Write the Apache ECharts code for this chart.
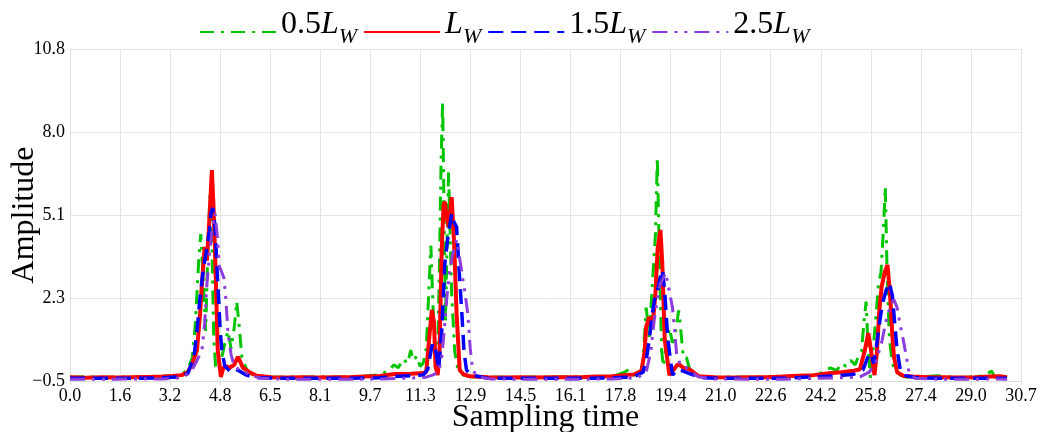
<!DOCTYPE html>
<html>
<head>
<meta charset="utf-8">
<script src="https://cdn.jsdelivr.net/npm/echarts@6/dist/echarts.min.js"></script>
<style>html,body{margin:0;padding:0;background:#fff;}#c{width:1047px;height:432px;}</style>
</head>
<body>
<div id="c"></div>
<script>
// ---- Data ----
const seriesNames = ['0.5L_W', 'L_W', '1.5L_W', '2.5L_W'];
const xTickLabels = ['0.0','1.6','3.2','4.8','6.5','8.1','9.7','11.3','12.9','14.5','16.1','17.8','19.4','21.0','22.6','24.2','25.8','27.4','29.0','30.7'];
const yTickLabels = ['\u22120.5','2.3','5.1','8.0','10.8'];

const greenT = [0,0.5,1.0,1.5,2.0,2.5,3.0,3.3,3.6,3.8,3.95,4.05,4.15,4.22,4.3,4.38,4.45,4.52,4.58,4.64,4.7,4.8,4.9,5.0,5.1,5.2,5.3,5.38,5.45,5.55,5.7,5.9,6.2,6.6,7.0,7.5,8.0,8.5,9.0,9.5,10.0,10.3,10.45,10.6,10.75,10.9,11.0,11.08,11.2,11.3,11.4,11.5,11.58,11.65,11.72,11.8,11.86,11.92,11.98,12.03,12.12,12.22,12.32,12.42,12.52,12.7,12.9,13.2,13.6,14.0,14.5,15.0,15.5,16.0,16.5,17.0,17.5,17.9,18.05,18.2,18.4,18.5,18.6,18.7,18.8,18.9,18.96,19.02,19.1,19.16,19.25,19.35,19.45,19.55,19.65,19.72,19.8,19.9,20.0,20.2,20.6,21.0,21.5,22.0,22.5,23.0,23.5,24.0,24.3,24.55,24.75,24.9,25.05,25.2,25.35,25.45,25.55,25.63,25.7,25.77,25.84,25.92,26.0,26.1,26.18,26.25,26.32,26.38,26.45,26.52,26.6,26.8,27.0,27.5,28.0,28.5,29.0,29.5,29.75,29.85,30.0,30.25];
const greenV = [-0.37,-0.35,-0.38,-0.36,-0.37,-0.35,-0.34,-0.32,-0.28,-0.1,0.3,1.5,3.5,4.5,3.0,1.2,4.0,5.9,4.2,1.0,0.0,-0.1,0.3,0.8,1.2,0.6,1.3,2.2,1.5,0.3,-0.1,-0.3,-0.35,-0.37,-0.36,-0.37,-0.35,-0.37,-0.36,-0.34,-0.28,-0.15,0.05,-0.05,0.25,0.1,0.55,0.2,0.35,0.0,0.1,0.6,2.5,4.1,2.0,0.3,0.0,3.0,7.0,9.0,1.5,6.6,2.5,0.5,-0.1,-0.3,-0.35,-0.37,-0.36,-0.37,-0.38,-0.36,-0.37,-0.36,-0.35,-0.36,-0.35,-0.2,-0.1,-0.3,-0.3,0.2,2.0,1.0,2.8,4.5,7.1,4.0,0.5,0.0,0.8,1.3,0.8,1.2,1.9,1.2,0.3,0.3,-0.1,-0.3,-0.36,-0.37,-0.36,-0.37,-0.35,-0.36,-0.34,-0.32,-0.2,-0.05,-0.15,0.1,0.0,0.2,0.05,0.35,0.5,1.5,2.2,0.5,-0.4,0.5,1.5,2.8,3.2,4.5,6.1,3.0,1.0,0.3,-0.1,-0.3,-0.37,-0.36,-0.32,-0.37,-0.37,-0.32,-0.16,-0.37,-0.36,-0.37];

const redT = [0,0.5,1.0,1.5,2.0,2.5,3.0,3.3,3.6,3.8,3.95,4.1,4.2,4.26,4.35,4.42,4.5,4.58,4.63,4.68,4.77,4.87,4.95,5.05,5.15,5.3,5.42,5.5,5.58,5.8,6.03,6.5,7.0,7.5,8.0,8.5,9.0,9.5,10.0,10.5,11.0,11.3,11.5,11.6,11.68,11.75,11.8,11.87,11.93,12.0,12.06,12.1,12.17,12.23,12.32,12.4,12.48,12.58,12.7,12.9,13.5,14.0,14.5,15.0,15.5,16.0,16.5,17.0,17.5,17.9,18.2,18.45,18.55,18.6,18.7,18.8,18.9,18.97,19.06,19.12,19.2,19.35,19.5,19.6,19.68,19.8,20.0,20.3,20.8,21.5,22.0,22.5,23.0,23.5,24.0,24.5,24.9,25.3,25.5,25.65,25.77,25.85,25.97,26.05,26.12,26.2,26.3,26.39,26.47,26.55,26.6,26.7,26.9,27.2,27.7,28.2,28.7,29.2,29.7,30.0,30.25];
const redV = [-0.37,-0.39,-0.37,-0.38,-0.37,-0.36,-0.35,-0.33,-0.3,-0.2,0.1,0.55,1.8,2.84,4.06,3.6,5.0,6.68,5.5,3.96,0.55,-0.36,-0.05,0.0,-0.05,0.05,0.32,0.15,-0.05,-0.2,-0.32,-0.37,-0.38,-0.37,-0.38,-0.37,-0.37,-0.35,-0.33,-0.26,-0.25,-0.24,-0.2,1.0,1.92,1.5,0.0,-0.3,0.5,4.0,5.5,5.6,5.0,4.74,5.76,4.2,1.8,-0.13,-0.27,-0.34,-0.37,-0.38,-0.37,-0.38,-0.37,-0.37,-0.37,-0.35,-0.34,-0.3,-0.28,-0.15,0.5,1.34,1.68,1.3,2.5,4.0,4.64,3.5,0.9,-0.3,-0.1,0.05,0.05,-0.05,-0.1,-0.34,-0.37,-0.38,-0.37,-0.37,-0.35,-0.32,-0.3,-0.24,-0.2,-0.15,-0.1,0.5,1.13,0.6,-0.3,0.5,1.8,2.7,3.2,3.45,2.5,1.0,0.32,-0.2,-0.32,-0.35,-0.37,-0.37,-0.38,-0.37,-0.35,-0.34,-0.37];

const blueT = [0,1.0,2.0,3.0,3.5,3.8,4.0,4.1,4.19,4.27,4.35,4.42,4.5,4.55,4.61,4.68,4.77,4.85,4.9,5.0,5.1,5.2,5.35,5.45,5.7,6.0,7.0,8.0,9.0,10.0,10.5,11.0,11.4,11.55,11.65,11.71,11.8,11.9,12.0,12.1,12.2,12.32,12.4,12.48,12.56,12.65,12.72,12.8,12.95,13.5,14.5,15.5,16.5,17.5,18.2,18.5,18.6,18.7,18.8,18.87,18.95,19.05,19.13,19.2,19.3,19.45,19.6,19.75,20.0,20.4,21.0,22.0,23.0,24.0,24.8,25.3,25.6,25.75,25.84,25.95,26.05,26.15,26.23,26.35,26.45,26.55,26.62,26.7,26.8,26.9,27.3,28.0,29.0,30.0,30.25];
const blueV = [-0.41,-0.41,-0.41,-0.39,-0.36,-0.25,0.3,1.2,2.26,3.0,3.6,4.0,4.6,5.2,5.39,4.8,2.84,1.2,0.55,0.0,-0.1,-0.2,-0.1,-0.15,-0.3,-0.39,-0.41,-0.41,-0.41,-0.39,-0.35,-0.32,-0.3,-0.1,0.5,0.79,0.6,-0.1,1.2,3.5,4.4,5.2,4.9,4.74,3.3,1.8,0.5,-0.13,-0.3,-0.41,-0.41,-0.41,-0.41,-0.39,-0.36,-0.2,0.2,0.9,1.8,2.26,2.5,3.0,3.28,2.5,0.9,-0.3,-0.1,-0.15,-0.25,-0.39,-0.41,-0.41,-0.41,-0.36,-0.32,-0.27,-0.12,0.3,0.45,0.1,0.8,1.6,2.15,2.6,2.84,2.4,1.5,0.55,-0.1,-0.3,-0.39,-0.41,-0.41,-0.41,-0.41];

const purpleT = [0,1.0,2.0,3.0,3.6,3.9,4.1,4.26,4.35,4.42,4.5,4.58,4.68,4.75,4.82,4.9,4.97,5.03,5.1,5.2,5.3,5.45,5.6,5.8,6.2,7.0,8.0,9.0,10.0,11.0,11.5,11.7,11.9,12.0,12.08,12.16,12.25,12.35,12.48,12.56,12.65,12.75,12.84,12.92,13.0,13.15,13.6,14.5,15.5,16.5,17.5,18.3,18.6,18.75,18.85,18.95,19.05,19.15,19.23,19.32,19.45,19.52,19.58,19.7,19.85,20.0,20.3,20.8,22.0,23.0,24.0,25.0,25.5,25.8,26.0,26.2,26.35,26.5,26.6,26.7,26.8,26.9,27.0,27.1,27.3,28.0,29.0,30.0,30.25];
const purpleV = [-0.44,-0.44,-0.43,-0.43,-0.39,-0.2,0.2,0.55,1.5,2.8,3.8,4.6,5.2,4.5,3.4,3.2,3.0,2.3,1.13,0.4,0.0,-0.1,-0.15,-0.3,-0.41,-0.44,-0.44,-0.44,-0.43,-0.4,-0.37,-0.3,-0.2,0.3,1.2,2.26,3.2,3.8,4.3,3.8,3.18,2.5,1.8,0.6,-0.13,-0.36,-0.43,-0.44,-0.44,-0.44,-0.43,-0.39,-0.2,0.5,1.5,2.2,2.8,3.0,3.18,2.7,2.0,1.2,0.45,0.05,0.0,-0.15,-0.36,-0.43,-0.44,-0.44,-0.41,-0.39,-0.36,-0.2,0.1,0.8,1.58,2.1,2.26,2.0,1.4,0.9,0.32,-0.3,-0.41,-0.44,-0.44,-0.43,-0.44];

// ---- Chart ----
const Y_MIN = -0.5, Y_MAX = 10.8, X_MAX = 30.7;
const xInterval = X_MAX / (xTickLabels.length - 1);
const yInterval = (Y_MAX - Y_MIN) / (yTickLabels.length - 1);
// y axis shifted so that its min is 0 (ticks counted from min)
const shift = v => v - Y_MIN;
const toData = (T, V) => T.map((t, i) => [t, shift(V[i])]);

const serif = 'Liberation Serif';
const styles = [
  {color: '#00c400', width: 3, type: [14, 7, 3, 7]},
  {color: '#ff0000', width: 4, type: 'solid'},
  {color: '#0000ff', width: 3.5, type: [15, 8]},
  {color: '#8c3cdc', width: 3, type: [15, 7, 3, 7, 3, 7]}
];
const dataSets = [toData(greenT, greenV), toData(redT, redV), toData(blueT, blueV), toData(purpleT, purpleV)];

const legendRich = {
  n: {fontFamily: serif, fontSize: 32, color: '#000', lineHeight: 32, padding: [0, 0, 7, 0], verticalAlign: 'bottom'},
  i: {fontFamily: serif, fontSize: 32, fontStyle: 'italic', color: '#000', lineHeight: 32, padding: [0, 0, 7, 0], verticalAlign: 'bottom'},
  s: {fontFamily: serif, fontSize: 22, fontStyle: 'italic', color: '#000', lineHeight: 22, verticalAlign: 'bottom'}
};
function legendFmt(name) {
  const m = name.match(/^([0-9.]*)L_W$/);
  return (m[1] ? '{n|' + m[1] + '}' : '') + '{i|L}{s|W}';
}

const chart = echarts.init(document.getElementById('c'), null, {renderer: 'canvas'});
chart.setOption({
  animation: false,
  backgroundColor: '#fff',
  legend: {
    top: 4, left: 194,
    itemWidth: 76, itemHeight: 14, itemGap: 6,
    data: seriesNames,
    formatter: legendFmt,
    itemStyle: {opacity: 0},
    textStyle: {rich: legendRich}
  },
  grid: {left: 70, right: 26, top: 49, bottom: 51, containLabel: false, outerBoundsMode: 'none'},
  xAxis: {
    type: 'value', min: 0, max: X_MAX, interval: xInterval,
    name: 'Sampling time', nameLocation: 'middle', nameGap: 21, nameMoveOverlap: false,
    nameTextStyle: {fontFamily: serif, fontSize: 32, color: '#000'},
    axisLine: {show: true, lineStyle: {color: '#dddddd'}},
    axisTick: {show: true, length: 4, lineStyle: {color: '#dddddd'}},
    axisLabel: {fontFamily: serif, fontSize: 18, color: '#000', margin: 6,
      formatter: v => xTickLabels[Math.round(v / xInterval)]},
    splitLine: {show: true, lineStyle: {color: '#e4e4e4', width: 1}}
  },
  yAxis: {
    type: 'value', min: 0, max: Y_MAX - Y_MIN, interval: yInterval,
    name: 'Amplitude', nameLocation: 'middle', nameGap: 29, nameMoveOverlap: false,
    nameTextStyle: {fontFamily: serif, fontSize: 32, color: '#000'},
    axisLine: {show: true, lineStyle: {color: '#dddddd'}},
    axisTick: {show: false},
    axisLabel: {fontFamily: serif, fontSize: 18, color: '#000', margin: 5,
      formatter: v => yTickLabels[Math.round(v / yInterval)]},
    splitLine: {show: true, lineStyle: {color: '#e4e4e4', width: 1}}
  },
  series: seriesNames.map((name, k) => ({
    name: name, type: 'line', symbol: 'none', smooth: false,
    data: dataSets[k],
    lineStyle: styles[k], itemStyle: {color: styles[k].color}, z: 2 + k
  }))
});
</script>
</body>
</html>
